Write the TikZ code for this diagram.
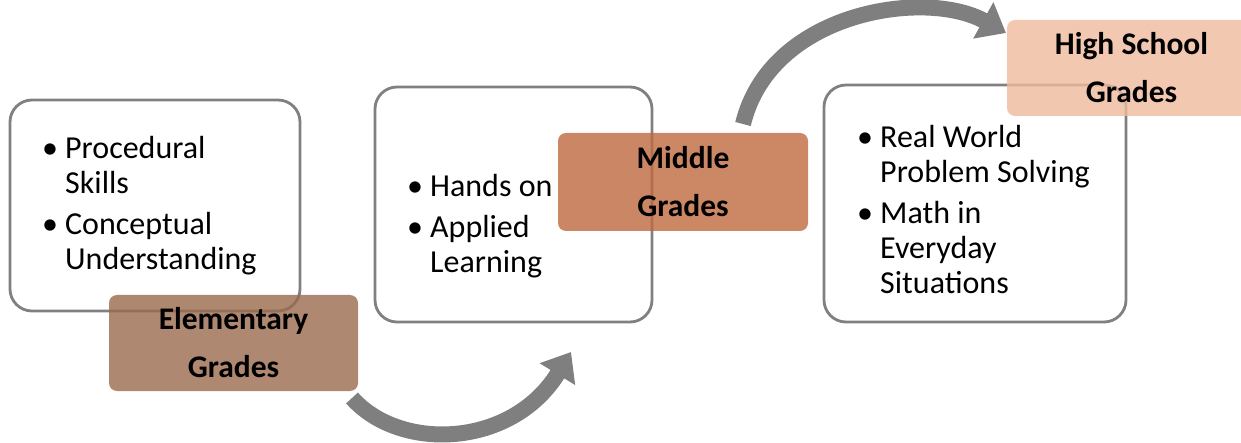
\documentclass[tikz,border=0pt]{standalone}
\usepackage{fontspec}
\setmainfont{Carlito}
\usetikzlibrary{arrows.meta}
\definecolor{boxgray}{RGB}{128,128,128}
\definecolor{arrgray}{RGB}{127,127,127}
\definecolor{elem}{RGB}{154,106,76}
\definecolor{midc}{RGB}{191,106,63}
\definecolor{highc}{RGB}{239,186,156}
\newcommand{\mybul}{\makebox[23pt][l]{•}}
\newcommand{\myind}{\hspace*{23pt}}
\tikzset{
  whitebox/.style={draw=boxgray, line width=2.8pt, fill=white, rounded corners=22pt, inner sep=0pt},
  listtext/.style={align=left, inner sep=0pt, font=\fontsize{32}{35}\selectfont, text=black},
  gradebox/.style={fill opacity=0.8, text opacity=1, rounded corners=8pt, inner sep=0pt, align=center,
     font=\fontsize{31.5}{48}\selectfont\bfseries, text=black},
  bigarrow/.style={draw=arrgray, line width=16pt, -{Triangle[length=26pt,width=40pt]}}
}
\begin{document}
\begin{tikzpicture}[x=1pt,y=-1pt]
\useasboundingbox (0,0) rectangle (1241,443);
% content boxes
\node[whitebox, minimum width=290pt, minimum height=211pt] (b1) at (155,205.5) {};
\node[whitebox, minimum width=277pt, minimum height=235pt] (b2) at (513.5,204.5) {};
\node[whitebox, minimum width=302pt, minimum height=237pt] (b3) at (975,203.5) {};
% list texts
\node[listtext, anchor=west] (t1) at (42,206) {\mybul Procedural\\\myind Skills\\[6pt]\mybul Conceptual\\\myind Understanding};
\node[listtext, anchor=west] (t2) at (407,226) {\mybul Hands on\\[6pt]\mybul Applied\\\myind Learning};
\node[listtext, anchor=west] (t3) at (857,210) {\mybul Real World\\\myind Problem Solving\\[6pt]\mybul Math in\\\myind Everyday\\\myind Situations};
% arrows
\coordinate (a1s) at (352,398);
\coordinate (a1e) at (571,352);
\coordinate (a2s) at (743,124);
\coordinate (a2e) at (1006,33);
\draw[bigarrow] (a1s) .. controls (400,452) and (512,448) .. (a1e);
\draw[bigarrow] (a2s) .. controls (770,12) and (925,-12) .. (a2e);
% grade labels
\node[gradebox, fill=elem, minimum width=249pt, minimum height=96pt] (g1) at (233.5,343) {Elementary\\Grades};
\node[gradebox, fill=midc, minimum width=250pt, minimum height=98pt] (g2) at (683,182) {Middle\\Grades};
\node[gradebox, fill=highc, minimum width=249pt, minimum height=96pt] (g3) at (1131.5,68) {High School\\Grades};
\end{tikzpicture}
\end{document}
